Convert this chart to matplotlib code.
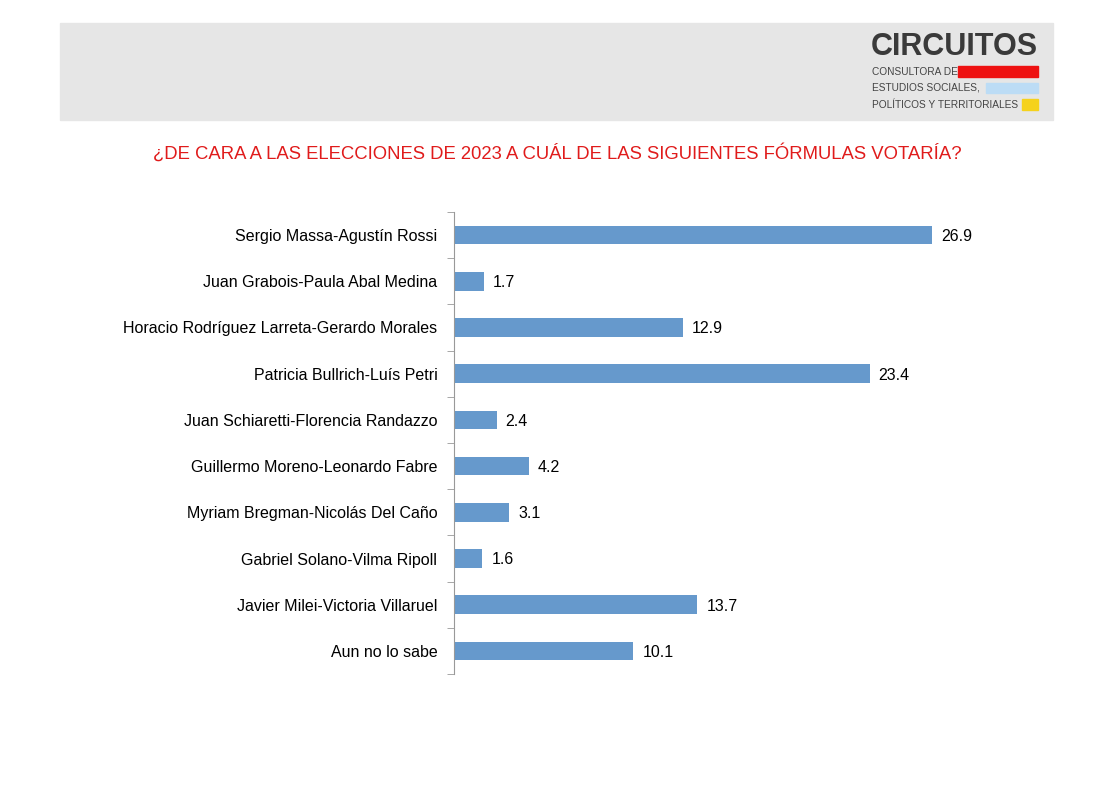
import matplotlib.pyplot as plt
from matplotlib.patches import Rectangle

plt.rcParams['font.family'] = ['Liberation Sans', 'DejaVu Sans']

formulas = [
    'Sergio Massa-Agustín Rossi',
    'Juan Grabois-Paula Abal Medina',
    'Horacio Rodríguez Larreta-Gerardo Morales',
    'Patricia Bullrich-Luís Petri',
    'Juan Schiaretti-Florencia Randazzo',
    'Guillermo Moreno-Leonardo Fabre',
    'Myriam Bregman-Nicolás Del Caño',
    'Gabriel Solano-Vilma Ripoll',
    'Javier Milei-Victoria Villaruel',
    'Aun no lo sabe',
]
votos = [26.9, 1.7, 12.9, 23.4, 2.4, 4.2, 3.1, 1.6, 13.7, 10.1]

W, H = 1119, 793
fig = plt.figure(figsize=(W / 100, H / 100), dpi=100)


def fx(px):
    return px / W


def fy(py):
    return 1 - py / H


# header box
fig.patches.append(Rectangle((fx(60), fy(120)), fx(993), 97 / H,
                             transform=fig.transFigure, color='#e6e6e6', zorder=0))
fig.text(fx(871), fy(47), 'CIRCUITOS', fontsize=22, fontweight='bold',
         color='#3a3a3a', va='center', ha='left')
small = dict(fontsize=7.3, color='#444444', va='center', ha='left')
fig.text(fx(872), fy(72), 'CONSULTORA DE', **small)
fig.text(fx(872), fy(88), 'ESTUDIOS SOCIALES,', **small)
fig.text(fx(872), fy(105), 'POLÍTICOS Y TERRITORIALES', **small)
fig.patches.append(Rectangle((fx(958), fy(77)), fx(80), 11 / H,
                             transform=fig.transFigure, color='#ee1111'))
fig.patches.append(Rectangle((fx(986), fy(93)), fx(52), 10 / H,
                             transform=fig.transFigure, color='#bcdcf5'))
fig.patches.append(Rectangle((fx(1022), fy(110)), fx(16), 11 / H,
                             transform=fig.transFigure, color='#f5d21c'))

fig.text(fx(557), fy(153), '¿DE CARA A LAS ELECCIONES DE 2023 A CUÁL DE LAS SIGUIENTES FÓRMULAS VOTARÍA?',
         fontsize=13.3, color='#e01b1b', ha='center', va='center')

ax = fig.add_axes([fx(454), fy(674), 533 / W, 462 / H])
y = list(range(len(formulas)))
ax.barh(y, votos, height=0.4, color='#6699cc')
ax.set_xlim(0, 30)
ax.set_ylim(len(formulas) - 0.5, -0.5)
for yi, v in zip(y, votos):
    ax.text(v + 0.5, yi + 0.03, f'{v:.1f}', va='center', ha='left', fontsize=11.5)

ax.set_yticks(y)
ax.set_yticklabels(formulas, fontsize=11.5)
ax.tick_params(axis='y', length=0, pad=12)
ax.set_yticks([i - 0.5 for i in range(len(formulas) + 1)], minor=True)
ax.tick_params(axis='y', which='minor', length=5, color='#999999')
ax.set_xticks([])
for s in ['top', 'right', 'bottom']:
    ax.spines[s].set_visible(False)
ax.spines['left'].set_color('#999999')

fig.savefig('out.png', dpi=100)
